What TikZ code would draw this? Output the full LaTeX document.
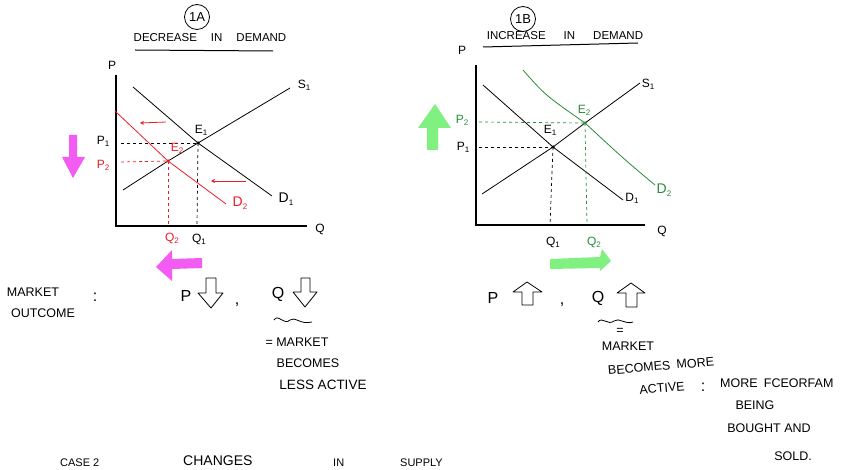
\documentclass[tikz,border=0pt]{standalone}
\usepackage{fontspec}
\setmainfont{Liberation Sans}
\usetikzlibrary{arrows.meta}
\definecolor{mag}{RGB}{242,92,242}
\definecolor{lgreen}{RGB}{128,240,128}
\definecolor{dgreen}{RGB}{40,140,60}
\definecolor{hred}{RGB}{235,30,40}
\newcommand\lsub[1]{\raisebox{-0.35ex}{\footnotesize #1}}
\begin{document}
\begin{tikzpicture}[x=1pt,y=-1pt,
 lbl/.style={font=\fontsize{12}{14}\selectfont, inner sep=0pt},
 txt/.style={font=\fontsize{12.5}{15}\selectfont, inner sep=0pt},
 big/.style={font=\fontsize{16}{18}\selectfont, inner sep=0pt},
 axis/.style={line width=1.8pt},
 curve/.style={line width=0.8pt, line join=round},
 guide/.style={line width=0.7pt, dash pattern=on 3pt off 3pt},
 eq/.style={circle, fill, inner sep=0pt, minimum size=3.5pt},
 hollow/.style={draw, line width=0.8pt, line join=round, fill=white},
 thick arrow/.style={line join=round},
 smallarr/.style={line width=0.8pt, -{Stealth[length=4pt,width=4pt]}},
 tag/.style={draw, circle, line width=0.8pt, inner sep=1pt, minimum size=25pt, font=\fontsize{13}{15}\selectfont}]
\useasboundingbox (0,0) rectangle (850,470);
\fill[white] (0,0) rectangle (850,470);

% ---------- titles ----------
\node[tag] (tA) at (197,17) {1A};
\node[txt, font=\fontsize{11.5}{13}\selectfont] (hA) at (210,38) {DECREASE\hspace{14pt}IN\hspace{14pt}DEMAND};
\coordinate (uA1) at (135,50); \coordinate (uA2) at (273,51);
\draw[line width=1pt] (uA1) -- (uA2);
\node[tag] (tB) at (523,19) {1B};
\node[txt, font=\fontsize{11.5}{13}\selectfont] (hB) at (565,36) {INCREASE\hspace{18pt}IN\hspace{18pt}DEMAND};
\coordinate (uB1) at (483,47); \coordinate (uB2) at (638,43);
\draw[line width=1pt] (uB1) -- (uB2);

% ---------- left chart ----------
\coordinate (LT) at (116,75); \coordinate (LO) at (116,226); \coordinate (LR) at (307,226);
\draw[axis] (LT) -- (LO) -- (LR);
\node[lbl] (LP) at (112,65) {P};
\node[lbl] (LQ) at (320,229) {Q};

\coordinate (LE1) at (198,143);
\coordinate (LE2) at (168,161);
\coordinate (LS0) at (123,190); \coordinate (LS1) at (290,88);
\coordinate (LD0) at (133,87); \coordinate (LD1) at (272,196);
\coordinate (LR0) at (115,111); \coordinate (LR1) at (226,204);
\draw[curve] (LS0) -- (LE2) -- (LE1) -- (LS1);
\draw[curve] (LD0) -- (LE1) -- (LD1);
\draw[curve, hred] (LR0) -- (LE2) -- (LR1);

\coordinate (LP1) at (121,143); \coordinate (LQ1) at (197,225);
\coordinate (LP2) at (121,162); \coordinate (LQ2) at (168,225);
\draw[guide] (LP1) -- (LE1);
\draw[guide] (LE1) -- (LQ1);
\draw[guide, hred] (LP2) -- (LE2);
\draw[guide, hred] (LE2) -- (LQ2);
\node[eq] (le1) at (LE1) {};
\node[eq, hred] (le2) at (LE2) {};

\node[lbl] (lS) at (304,85) {S\lsub{1}};
\node[lbl, font=\fontsize{14}{16}\selectfont] (lD) at (286,199) {D\lsub{1}};
\node[lbl] (lE1) at (201,130) {E\lsub{1}};
\node[lbl] (lP1) at (103,141) {P\lsub{1}};
\node[lbl] (lQ1) at (199,239) {Q\lsub{1}};
\node[lbl, hred] (lE2) at (177,148) {E\lsub{2}};
\node[lbl, hred] (lP2) at (103,165) {P\lsub{2}};
\node[lbl, hred] (lQ2) at (172,238) {Q\lsub{2}};
\node[lbl, hred, font=\fontsize{14}{16}\selectfont] (lD2) at (240,203) {D\lsub{2}};

\coordinate (ra1) at (166,122); \coordinate (ra2) at (140,123);
\coordinate (rb1) at (246,181); \coordinate (rb2) at (211,181);
\draw[smallarr, hred] (ra1) -- (ra2);
\draw[smallarr, hred] (rb1) -- (rb2);

% magenta arrows
\fill[mag, thick arrow] (69,135) -- (77,135) -- (77,157) -- (85,157) -- (73,178) -- (62,157) -- (69,157) -- cycle;
\fill[mag, thick arrow] (202,258) -- (172,259) -- (172,250) -- (156,267) -- (172,281) -- (172,269) -- (202,268) -- cycle;

% ---------- right chart ----------
\coordinate (RT) at (476,65); \coordinate (RO) at (476,225); \coordinate (RR) at (645,225);
\draw[axis] (RT) -- (RO) -- (RR);
\node[lbl] (RPl) at (462,50) {P};
\node[lbl] (RQl) at (662,231) {Q};

\coordinate (RE1) at (553,147);
\coordinate (RE2) at (585,123);
\coordinate (RS0) at (482,194); \coordinate (RS1) at (640,83);
\coordinate (RD0) at (483,85); \coordinate (RD1) at (623,200);
\coordinate (RG0) at (523,70); \coordinate (RG1) at (655,185);
\draw[curve] (RS0) -- (RE1) -- (RE2) -- (RS1);
\draw[curve] (RD0) -- (RE1) -- (RD1);
\draw[curve, dgreen] (RG0) .. controls (545,95) .. (RE2) .. controls (625,160) .. (RG1);

\coordinate (RP1) at (479,147); \coordinate (RQ1) at (550,225);
\coordinate (RP2) at (479,122); \coordinate (RQ2) at (587,225);
\draw[guide] (RP1) -- (RE1);
\draw[guide] (RE1) -- (RQ1);
\draw[guide, dgreen] (RP2) -- (RE2);
\draw[guide, dgreen] (RE2) -- (RQ2);
\node[eq] (re1) at (RE1) {};
\node[eq, dgreen] (re2) at (RE2) {};

\node[lbl] (rS) at (648,84) {S\lsub{1}};
\node[lbl] (rD) at (632,198) {D\lsub{1}};
\node[lbl] (rE1) at (550,130) {E\lsub{1}};
\node[lbl] (rP1) at (463,147) {P\lsub{1}};
\node[lbl] (rQ1) at (553,242) {Q\lsub{1}};
\node[lbl, dgreen] (rE2) at (584,110) {E\lsub{2}};
\node[lbl, dgreen] (rP2) at (462,120) {P\lsub{2}};
\node[lbl, dgreen] (rQ2) at (594,242) {Q\lsub{2}};
\node[lbl, dgreen, font=\fontsize{14}{16}\selectfont] (rD2) at (664,190) {D\lsub{2}};

% green arrows
\fill[lgreen, thick arrow] (435,104) -- (451,128) -- (438,128) -- (438,150) -- (427,150) -- (427,128) -- (418,128) -- cycle;
\fill[lgreen, thick arrow] (550,259) -- (600,257) -- (602,249) -- (611,261) -- (600,271) -- (600,268) -- (550,269) -- cycle;

% ---------- bottom left text ----------
\node[txt] (mk) at (33,292) {MARKET};
\node[txt] (oc) at (43,313) {OUTCOME};
\node[big] (col1) at (95,297) {:};
\node[big] (pA) at (186,296) {P};
\draw[hollow] (206,278) -- (216,278) -- (216,293) -- (223,293) -- (211,308) -- (198,293) -- (206,293) -- cycle;
\node[big] (cA) at (237,305) {,};
\node[big] (qA) at (278,294) {Q};
\draw[hollow] (301,278) -- (310,278) -- (310,292) -- (317,292) -- (305,307) -- (293,292) -- (301,292) -- cycle;
\coordinate (wA0) at (274,320); \coordinate (wA1) at (312,322);
\draw[line width=0.8pt] (wA0) .. controls (278,313) and (284,326) .. (290,320) .. controls (295,316) and (300,325) .. (wA1);
\node[txt] (mA) at (297,342) {= MARKET};
\node[txt] (bA) at (308,363) {BECOMES};
\node[txt, font=\fontsize{13.5}{16}\selectfont] (lA) at (323,385) {LESS ACTIVE};

% ---------- bottom right text ----------
\node[big] (pB) at (493,298) {P};
\draw[hollow] (527,282) -- (542,292) -- (533,292) -- (533,305) -- (522,305) -- (522,292) -- (513,292) -- cycle;
\node[big] (cB) at (562,305) {,};
\node[big] (qB) at (598,298) {Q};
\draw[hollow] (631,283) -- (645,293) -- (637,293) -- (637,307) -- (626,307) -- (626,293) -- (617,293) -- cycle;
\coordinate (wB0) at (598,322); \coordinate (wB1) at (633,322);
\draw[line width=0.8pt] (wB0) .. controls (602,316) and (608,326) .. (614,321) .. controls (619,317) and (625,325) .. (wB1);
\node[txt] (eqB) at (620,331) {=};
\node[txt] (mB) at (628,346) {MARKET};
\node[txt, rotate=5] (bB) at (661,366) {BECOMES\enspace MORE};
\node[txt, rotate=5] (aB) at (662,388) {ACTIVE};
\node[big] (col2) at (703,387) {:};
\node[txt, anchor=west] (mrB) at (720,383) {MORE\enspace FCEORFAM};
\node[txt] (beB) at (755,405) {BEING};
\node[txt] (boB) at (769,428) {BOUGHT AND};
\node[txt] (soB) at (793,456) {SOLD.};

% ---------- bottom heading ----------
\node[txt, anchor=base west, font=\fontsize{11}{13}\selectfont] (c2) at (60,466) {CASE 2};
\node[txt, anchor=base west, font=\fontsize{14}{16}\selectfont] (ch) at (183,465) {CHANGES};
\node[txt, anchor=base west, font=\fontsize{11}{13}\selectfont] (in) at (333,466) {IN};
\node[txt, anchor=base west, font=\fontsize{11}{13}\selectfont] (sp) at (400,466) {SUPPLY};
\end{tikzpicture}
\end{document}
